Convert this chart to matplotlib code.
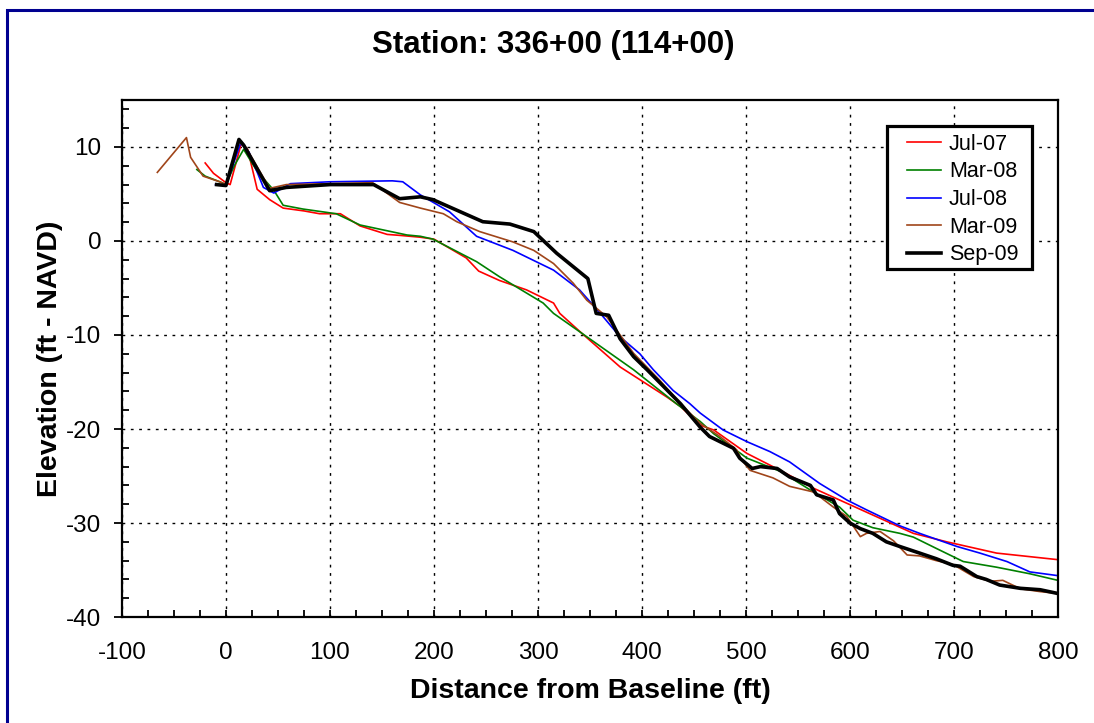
import matplotlib.pyplot as plt
from matplotlib.patches import Rectangle
from matplotlib.ticker import MultipleLocator

plt.rcParams['font.family'] = ['Liberation Sans', 'DejaVu Sans']
plt.rcParams['axes.unicode_minus'] = False

# Beach profile surveys, distance (ft) vs elevation (ft NAVD)
jul07_x = [-20, -12, 0, 4, 15, 21, 30, 42, 55, 75, 90, 110, 129, 155, 167, 187, 200,
           231, 243, 263, 289, 315, 321, 342, 379, 424, 437, 456, 469, 501, 533, 565,
           597, 629, 661, 693, 741, 800]
jul07_y = [8.3, 7.2, 6.2, 6.0, 10.5, 9.7, 5.5, 4.4, 3.5, 3.2, 2.9, 2.9, 1.6, 0.7, 0.6,
           0.4, 0.2, -1.8, -3.2, -4.2, -5.2, -6.6, -7.7, -9.8, -13.4, -16.6, -17.6,
           -19.6, -20.1, -22.6, -24.4, -26.3, -27.9, -29.5, -31.1, -32.0, -33.2, -33.9]

mar08_x = [-28, -20, -6, 0, 8, 17, 30, 46, 55, 74, 106, 129, 174, 187, 199, 241, 263,
           305, 315, 342, 392, 433, 456, 469, 501, 533, 565, 590, 603, 622, 648, 661,
           683, 709, 741, 773, 800]
mar08_y = [7.6, 6.9, 6.3, 6.0, 8.0, 9.75, 7.4, 5.4, 3.8, 3.4, 2.9, 1.7, 0.64, 0.5, 0.2,
           -2.2, -3.8, -6.6, -7.7, -9.8, -13.7, -17.3, -19.2, -20.5, -23.1, -24.5,
           -26.7, -28.3, -29.7, -30.5, -31.1, -31.5, -32.7, -34.1, -34.7, -35.4, -36.1]

jul08_x = [-10, 0, 14, 22, 36, 46, 62, 100, 160, 170, 187, 215, 241, 276, 315, 340,
           360, 379, 398, 411, 430, 446, 456, 478, 501, 523, 542, 571, 597, 616, 648,
           667, 703, 725, 751, 773, 800]
jul08_y = [6.0, 5.9, 10.4, 9.5, 5.7, 5.1, 6.1, 6.3, 6.4, 6.3, 4.9, 3.1, 0.5, -1.0,
           -3.1, -5.2, -7.7, -10.2, -12.0, -13.7, -15.9, -17.3, -18.3, -20.1, -21.35,
           -22.4, -23.5, -25.8, -27.55, -28.6, -30.3, -31.1, -32.5, -33.2, -34.1,
           -35.2, -35.6]

mar09_x = [-66, -38, -34, -22, -6, 0, 12, 20, 42, 58, 100, 141, 167, 187, 209, 222,
           244, 276, 296, 315, 334, 347, 366, 392, 417, 437, 456, 475, 491, 496, 504,
           526, 542, 565, 584, 597, 610, 616, 629, 642, 655, 667, 683, 699, 719, 735,
           747, 764, 783, 800]
mar09_y = [7.3, 11.0, 8.9, 6.9, 6.3, 6.0, 10.6, 9.8, 5.6, 6.0, 6.1, 6.2, 4.1, 3.5,
           2.9, 2.05, 1.0, -0.1, -1.0, -2.4, -4.5, -6.3, -8.05, -11.95, -14.8, -17.3,
           -19.4, -20.8, -22.2, -23.3, -24.4, -25.2, -26.1, -26.7, -28.3, -29.3,
           -31.45, -31.1, -30.9, -31.9, -33.4, -33.5, -34.0, -34.4, -35.7, -36.2,
           -36.1, -37.0, -37.3, -37.5]

sep09_x = [-9, 0, 12.5, 17, 42, 58, 100, 142, 167, 187, 199, 247, 273, 296, 318, 348,
           356, 368, 379, 392, 405, 421, 437, 456, 465, 488, 494, 506, 514, 530, 542,
           562, 568, 584, 590, 600, 610, 622, 635, 648, 667, 683, 699, 706, 722, 731,
           744, 764, 783, 800]
sep09_y = [6.0, 5.9, 10.8, 10.2, 5.35, 5.7, 6.0, 6.0, 4.5, 4.7, 4.4, 2.05, 1.8, 1.0,
           -1.3, -4.0, -7.7, -7.9, -10.4, -12.3, -13.7, -15.5, -17.3, -19.8, -20.8,
           -22.05, -23.1, -24.2, -24.0, -24.2, -25.1, -26.0, -27.0, -27.55, -29.0,
           -30.0, -30.6, -31.1, -32.0, -32.5, -33.2, -33.8, -34.5, -34.6, -35.7,
           -36.0, -36.6, -36.95, -37.1, -37.5]

fig = plt.figure(figsize=(10.94, 7.23), dpi=100)
ax = fig.add_axes([0.1115, 0.1466, 0.8555, 0.7151])

ax.plot(jul07_x, jul07_y, color='#ff0000', lw=1.2, label='Jul-07')
ax.plot(mar08_x, mar08_y, color='#008000', lw=1.2, label='Mar-08')
ax.plot(jul08_x, jul08_y, color='#0000ff', lw=1.2, label='Jul-08')
ax.plot(mar09_x, mar09_y, color='#a0451a', lw=1.2, label='Mar-09')
ax.plot(sep09_x, sep09_y, color='black', lw=2.6, label='Sep-09')

ax.set_xlim(-100, 800)
ax.set_ylim(-40, 15)
ax.xaxis.set_major_locator(MultipleLocator(100))
ax.xaxis.set_minor_locator(MultipleLocator(25))
ax.yaxis.set_major_locator(MultipleLocator(10))
ax.yaxis.set_minor_locator(MultipleLocator(2))
ax.tick_params(axis='x', which='major', direction='in', length=5, width=1.3,
               pad=18, labelsize=17.5)
ax.tick_params(axis='x', which='minor', direction='in', length=5, width=1.3)
ax.tick_params(axis='y', which='major', direction='out', length=6, width=1.3,
               pad=9, labelsize=17.5)
ax.tick_params(axis='y', which='minor', direction='in', length=5, width=1.3)
for s in ax.spines.values():
    s.set_linewidth(1.6)

ax.grid(True, which='major', color='black', linestyle=(0, (2, 4)), lw=1.0)
ax.set_axisbelow(True)

ax.set_xlabel('Distance from Baseline (ft)', fontsize=20.5, fontweight='bold', labelpad=10)
ax.set_ylabel('Elevation (ft - NAVD)', fontsize=20.5, fontweight='bold', labelpad=2)
fig.text(0.506, 0.938, 'Station: 336+00 (114+00)', fontsize=22.5, fontweight='bold',
         ha='center', va='center')

# legend box drawn separately so it can be wider than its content
fig.patches.append(Rectangle((0.8108, 0.6279), 0.1325, 0.1978, transform=fig.transFigure,
                             facecolor='white', edgecolor='black', lw=2.3, zorder=3))
handles, labels = ax.get_legend_handles_labels()
fig.legend(handles, labels, loc='upper left', bbox_to_anchor=(0.829, 0.815),
           fontsize=15.5, frameon=False, handlelength=1.6, handletextpad=0.35,
           labelspacing=0.31, borderpad=0, borderaxespad=0)

# navy frame around the page
fig.patches.append(Rectangle((6.5 / 1094, -0.1), 1.2, 1.1 - 10.5 / 723,
                             transform=fig.transFigure, fill=False,
                             edgecolor='#000090', lw=2.2))

plt.savefig('out.png', dpi=100)
